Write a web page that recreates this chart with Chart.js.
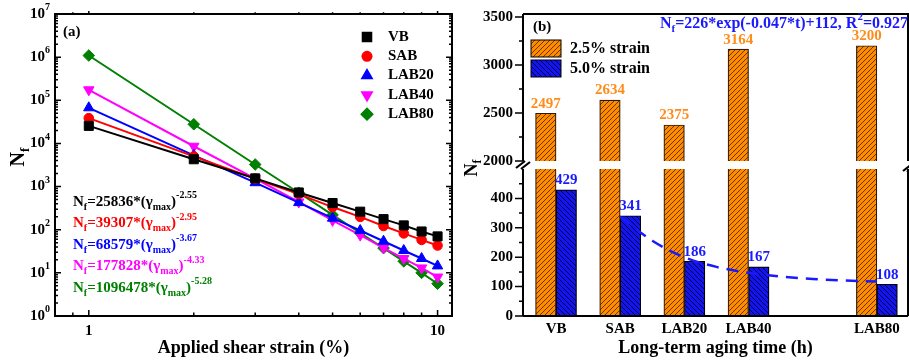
<!DOCTYPE html>
<html>
<head>
<meta charset="utf-8">
<title>Fatigue life</title>
<script src="https://cdn.jsdelivr.net/npm/chart.js@4.4.1/dist/chart.umd.min.js"></script>
<style>
  html, body { margin: 0; padding: 0; background: #fff; }
  #page { position: relative; width: 909px; height: 363px; overflow: hidden; }
  canvas { position: absolute; }
  #chartA { left: 0; top: 0; }
  #chartB1 { left: 460px; top: 0; }
  #chartB2 { left: 460px; top: 150px; }
</style>
</head>
<body>
<div id="page">
  <canvas id="chartA" width="460" height="363"></canvas>
  <canvas id="chartB1" width="449" height="175"></canvas>
  <canvas id="chartB2" width="449" height="213"></canvas>
</div>
<script>
// panel (a): cycles to failure vs applied shear strain
var strainPct = [1, 2, 3, 4, 5, 6, 7, 8, 9, 10];
var nfVB    = [25500, 4300, 1550, 730, 415, 262, 176, 126, 91, 70];
var nfSAB   = [38500, 5000, 1520, 670, 335, 198, 122, 82, 58, 43];
var nfLAB20 = [67000, 5300, 1230, 425, 185, 96, 54, 33, 21.5, 14.5];
var nfLAB40 = [175000, 8600, 1520, 440, 165, 75, 38, 21.5, 13, 8];
var nfLAB80 = [1090000, 27800, 3250, 720, 220, 84, 37.5, 18.5, 10, 5.6];
var seriesNames = ['VB', 'SAB', 'LAB20', 'LAB40', 'LAB80'];
var fitCoef = ['25836', '39307', '68579', '177828', '1096478'];
var fitExp = ['-2.55', '-2.95', '-3.67', '-4.33', '-5.28'];
var xTicksA = [0.9, 1, 2, 3, 4, 5, 6, 7, 8, 9, 10];
var xLabelsA = [1, 10];
var yDecadesA = [0, 1, 2, 3, 4, 5, 6, 7];

// panel (b): fatigue life vs long-term aging
var categories = ['VB', 'SAB', 'LAB20', 'LAB40', 'LAB80'];
var agingPos = [-20, 0, 20, 40, 80];   // where each group sits on the aging axis
var nf25 = [2497, 2634, 2375, 3164, 3200];
var nf50 = [429, 341, 186, 167, 108];
var fitT = [0, 10, 20, 30, 40, 50, 60, 70, 80];
var fitNf = [338, 256, 200, 167, 147, 134, 126, 121, 117];
var yTicksTop = [2000, 2500, 3000, 3500];
var yTicksBottom = [0, 100, 200, 300, 400];

var SERIF = '"Liberation Serif", "Times New Roman", serif';
function bold(size) { return 'bold ' + size + 'px ' + SERIF; }
Chart.defaults.font.family = SERIF;
Chart.defaults.color = '#000';

// text with sub/superscripts, parts = [[text, 'sub'|'sup'|undefined], ...]
function drawRich(ctx, parts, x, y, size, color, align) {
  var small = Math.round(size * 0.66);
  var w = 0;
  parts.forEach(function(p) {
    ctx.font = bold(p[1] ? small : size);
    w += ctx.measureText(p[0]).width;
  });
  var cx = align === 'right' ? x - w : (align === 'center' ? x - w / 2 : x);
  ctx.fillStyle = color;
  ctx.textAlign = 'left';
  ctx.textBaseline = 'middle';
  parts.forEach(function(p) {
    var dy = p[1] === 'sub' ? size * 0.33 : (p[1] === 'sup' ? -size * 0.42 : 0);
    ctx.font = bold(p[1] ? small : size);
    ctx.fillText(p[0], cx, y + dy);
    cx += ctx.measureText(p[0]).width;
  });
}

function line(ctx, x1, y1, x2, y2) {
  ctx.moveTo(x1, y1);
  ctx.lineTo(x2, y2);
}

// ---------- panel (a) ----------
var nfAll = [nfVB, nfSAB, nfLAB20, nfLAB40, nfLAB80];
var colorsA = ['#000000', '#ff0000', '#0000ff', '#ff00ff', '#008000'];
var markersA = [
  {style: 'rect', r: 6.4, rot: 0},
  {style: 'circle', r: 4.8, rot: 0},
  {style: 'triangle', r: 6, rot: 0},
  {style: 'triangle', r: 6, rot: 180},
  {style: 'rectRot', r: 5.8, rot: 0}
];

var frameA = {
  id: 'frameA',
  afterDraw: function(chart) {
    var ctx = chart.ctx, a = chart.chartArea;
    var xs = chart.scales.x, ys = chart.scales.y;
    ctx.save();
    ctx.strokeStyle = '#000';
    ctx.lineWidth = 2;
    ctx.strokeRect(a.left, a.top, a.right - a.left, a.bottom - a.top);

    // tick marks
    ctx.lineWidth = 1.5;
    ctx.beginPath();
    xTicksA.forEach(function(v) {
      var px = xs.getPixelForValue(v);
      var len = xLabelsA.indexOf(v) >= 0 ? 6 : 3.5;
      line(ctx, px, a.bottom, px, a.bottom - len);
      line(ctx, px, a.top, px, a.top - len * 0.5);
    });
    yDecadesA.forEach(function(d) {
      for (var m = 1; m <= 9; m++) {
        if (d === 7 && m > 1) break;
        var py = ys.getPixelForValue(m * Math.pow(10, d));
        var len = m === 1 ? 6 : 3;
        line(ctx, a.left, py, a.left + len, py);
        line(ctx, a.right, py, a.right - len, py);
      }
    });
    ctx.stroke();

    // y tick labels 10^n
    yDecadesA.forEach(function(d) {
      var py = ys.getPixelForValue(Math.pow(10, d));
      drawRich(ctx, [['10'], [String(d), 'sup']], a.left - 5, py, 15, '#000', 'right');
    });

    // y title
    ctx.save();
    ctx.translate(19, 157);
    ctx.rotate(-Math.PI / 2);
    drawRich(ctx, [['N'], ['f', 'sub']], 0, 0, 20, '#000', 'center');
    ctx.restore();

    drawRich(ctx, [['(a)']], 63, 32, 15, '#000', 'left');

    // legend
    seriesNames.forEach(function(name, i) {
      var ly = 37 + i * 19.3;
      var mk = markersA[i];
      ctx.fillStyle = colorsA[i];
      ctx.strokeStyle = colorsA[i];
      if (Chart.helpers && Chart.helpers.drawPoint) {
        Chart.helpers.drawPoint(ctx, {pointStyle: mk.style, radius: mk.r, rotation: mk.rot, borderWidth: 1}, 367, ly);
      }
      drawRich(ctx, [[name]], 388, ly, 15, '#000', 'left');
    });

    // power-law fits
    fitCoef.forEach(function(c, i) {
      var fy = 202 + i * 21.5;
      drawRich(ctx, [['N'], ['f', 'sub'], ['=' + c + '*(\u03b3'], ['max', 'sub'], [')'], [fitExp[i], 'sup']],
        73, fy, 15, colorsA[i], 'left');
    });
    ctx.restore();
  }
};

new Chart(document.getElementById('chartA'), {
  type: 'line',
  data: {
    datasets: nfAll.map(function(vals, i) {
      return {
        label: seriesNames[i],
        data: strainPct.map(function(x, k) { return {x: x, y: vals[k]}; }),
        borderColor: colorsA[i],
        backgroundColor: colorsA[i],
        borderWidth: 2,
        pointStyle: markersA[i].style,
        pointRadius: markersA[i].r,
        pointRotation: markersA[i].rot,
        pointBorderWidth: 1,
        tension: 0
      };
    })
  },
  options: {
    responsive: false,
    animation: false,
    devicePixelRatio: 1,
    layout: {padding: {left: 0, top: 14, right: 8, bottom: 0}},
    plugins: {legend: {display: false}, tooltip: {enabled: false}},
    scales: {
      x: {
        type: 'logarithmic', min: 0.8, max: 11,
        afterFit: function(s) { s.height = 47; },
        afterBuildTicks: function(s) { s.ticks = xTicksA.map(function(v) { return {value: v}; }); },
        grid: {display: false, drawTicks: false},
        border: {display: false},
        ticks: {
          autoSkip: false, maxRotation: 0, padding: 6,
          font: {size: 15, weight: 'bold'},
          callback: function(v) { return xLabelsA.indexOf(v) >= 0 ? String(v) : ''; }
        },
        title: {display: true, text: 'Applied shear strain (%)', font: {size: 18, weight: 'bold'}, padding: {top: 0, bottom: 4}}
      },
      y: {
        type: 'logarithmic', min: 1, max: 1e7,
        afterFit: function(s) { s.width = 55; },
        grid: {display: false, drawTicks: false},
        border: {display: false},
        ticks: {display: false}
      }
    }
  },
  plugins: [frameA]
});

// ---------- panel (b) ----------
function hatch(bg, ink, slash) {
  var c = document.createElement('canvas');
  c.width = 5; c.height = 5;
  var g = c.getContext('2d');
  g.fillStyle = bg;
  g.fillRect(0, 0, 5, 5);
  g.strokeStyle = ink;
  g.lineWidth = 0.9;
  g.beginPath();
  if (slash) {
    line(g, 0, 5, 5, 0); line(g, -1, 1, 1, -1); line(g, 4, 6, 6, 4);
  } else {
    line(g, 0, 0, 5, 5); line(g, 4, -1, 6, 1); line(g, -1, 4, 1, 6);
  }
  g.stroke();
  return g.createPattern(c, 'repeat');
}
var orangeFill = hatch('#ff8c00', '#5a2a00', true);
var blueFill = hatch('#1414f0', '#000033', false);
var labelColors = ['#ff8c1a', '#1a1aff'];

function barSets() {
  return [
    {
      label: '2.5% strain',
      data: agingPos.map(function(p, i) { return {x: p, y: nf25[i]}; }),
      backgroundColor: orangeFill, borderColor: '#2a1a0a', borderWidth: 1.2,
      barThickness: 20.5, order: 1
    },
    {
      label: '5.0% strain',
      data: agingPos.map(function(p, i) { return {x: p, y: nf50[i]}; }),
      backgroundColor: blueFill, borderColor: '#000000', borderWidth: 1.2,
      barThickness: 20.5, order: 1
    }
  ];
}

var barLabels = {
  id: 'barLabels',
  afterDatasetsDraw: function(chart) {
    var ctx = chart.ctx, ys = chart.scales.y;
    ctx.save();
    ctx.font = bold(15);
    ctx.textAlign = 'center';
    ctx.textBaseline = 'middle';
    [0, 1].forEach(function(di) {
      var ds = chart.data.datasets[di], meta = chart.getDatasetMeta(di);
      meta.data.forEach(function(el, i) {
        var v = ds.data[i].y;
        if (v < ys.min || v > ys.max) return;
        ctx.fillStyle = labelColors[di];
        ctx.fillText(String(v), el.x, el.y - 9.5);
      });
    });
    ctx.restore();
  }
};

function outTicks(ctx, scale, x, majors, minors) {
  ctx.beginPath();
  majors.forEach(function(v) { var py = scale.getPixelForValue(v); line(ctx, x, py, x - 8, py); });
  minors.forEach(function(v) { var py = scale.getPixelForValue(v); line(ctx, x, py, x - 4, py); });
  ctx.stroke();
}

var frameTop = {
  id: 'frameTop',
  afterDraw: function(chart) {
    var ctx = chart.ctx, a = chart.chartArea, ys = chart.scales.y;
    ctx.save();
    ctx.strokeStyle = '#000';
    ctx.lineWidth = 2;
    ctx.beginPath();
    line(ctx, a.left, a.bottom, a.left, a.top);
    line(ctx, a.left, a.top, chart.width, a.top);
    line(ctx, a.right, a.top, a.right, a.bottom);
    ctx.stroke();
    ctx.lineWidth = 1.5;
    outTicks(ctx, ys, a.left, yTicksTop, [2250, 2750, 3250]);

    // y tick labels (drawn here so the bottom label may sit on the axis break)
    yTicksTop.forEach(function(v) {
      drawRich(ctx, [[String(v)]], a.left - 10, ys.getPixelForValue(v), 15, '#000', 'right');
    });

    drawRich(ctx, [['(b)']], 73, 27, 15, '#000', 'left');

    // legend
    [orangeFill, blueFill].forEach(function(fill, i) {
      var by = 40 + i * 20;
      ctx.fillStyle = fill;
      ctx.fillRect(71, by, 30, 17);
      ctx.lineWidth = 1;
      ctx.strokeStyle = '#000';
      ctx.strokeRect(71, by, 30, 17);
      drawRich(ctx, [[chart.data.datasets[i].label]], 110, by + 9, 16, '#000', 'left');
    });

    drawRich(ctx, [['N'], ['f', 'sub'], ['=226*exp(-0.047*t)+112, R'], ['2', 'sup'], ['=0.927']],
      chart.width - 1, 24, 16, '#1a1aff', 'right');
    ctx.restore();
  }
};

var frameBottom = {
  id: 'frameBottom',
  afterDraw: function(chart) {
    var ctx = chart.ctx, a = chart.chartArea;
    ctx.save();
    ctx.strokeStyle = '#000';
    ctx.lineWidth = 2;
    ctx.beginPath();
    line(ctx, a.left, a.top, a.left, a.bottom);
    line(ctx, a.left, a.bottom, a.right, a.bottom);
    line(ctx, a.right, a.top, a.right, a.bottom);
    ctx.stroke();
    ctx.lineWidth = 1.5;
    outTicks(ctx, chart.scales.y, a.left, yTicksBottom, [50, 150, 250, 350, 450]);

    // axis break marks
    ctx.lineWidth = 2.2;
    ctx.beginPath();
    line(ctx, a.left - 7, a.top - 1, a.left + 2, a.top - 8);
    line(ctx, a.left - 2, a.top, a.left + 7, a.top - 7);
    line(ctx, a.right - 5, a.top + 2, a.right + 4, a.top - 5);
    line(ctx, a.right - 1, a.top + 3, a.right + 8, a.top - 4);
    ctx.stroke();

    // y title
    ctx.save();
    ctx.translate(12, 18);
    ctx.rotate(-Math.PI / 2);
    drawRich(ctx, [['N'], ['f', 'sub']], 0, 0, 18, '#000', 'center');
    ctx.restore();
    ctx.restore();
  }
};

var xAxisB = {
  type: 'linear', min: -30.3, max: 89.7, offset: false
};

new Chart(document.getElementById('chartB1'), {
  type: 'bar',
  data: {datasets: barSets()},
  options: {
    responsive: false,
    animation: false,
    devicePixelRatio: 1,
    layout: {padding: {left: 0, top: 14, right: 1, bottom: 14}},
    plugins: {legend: {display: false}, tooltip: {enabled: false}},
    scales: {
      x: Object.assign({display: false}, xAxisB),
      y: {
        min: 2000, max: 3530,
        afterFit: function(s) { s.width = 63; },
        grid: {display: false, drawTicks: false},
        border: {display: false},
        ticks: {display: false}
      }
    }
  },
  plugins: [barLabels, frameTop]
});

var lowerSets = barSets();
lowerSets.push({
  type: 'line',
  label: 'fit',
  data: fitT.map(function(t, i) { return {x: t, y: fitNf[i]}; }),
  borderColor: '#1a1aff',
  borderWidth: 2.5,
  borderDash: [12, 8],
  pointRadius: 0,
  cubicInterpolationMode: 'monotone',
  order: 0
});

new Chart(document.getElementById('chartB2'), {
  type: 'bar',
  data: {datasets: lowerSets},
  options: {
    responsive: false,
    animation: false,
    devicePixelRatio: 1,
    layout: {padding: {left: 0, top: 17, right: 1, bottom: 0}},
    plugins: {legend: {display: false}, tooltip: {enabled: false}},
    scales: {
      x: Object.assign({
        afterFit: function(s) { s.height = 47; },
        afterBuildTicks: function(s) { s.ticks = agingPos.map(function(v) { return {value: v}; }); },
        grid: {display: false, drawTicks: false},
        border: {display: false},
        ticks: {
          autoSkip: false, maxRotation: 0, padding: 4,
          font: {size: 15, weight: 'bold'},
          callback: function(v) { return categories[agingPos.indexOf(v)]; }
        },
        title: {display: true, text: 'Long-term aging time (h)', font: {size: 18, weight: 'bold'}, padding: {top: 0, bottom: 4}}
      }, xAxisB),
      y: {
        min: 0, max: 500,
        afterFit: function(s) { s.width = 63; },
        afterBuildTicks: function(s) { s.ticks = yTicksBottom.map(function(v) { return {value: v}; }); },
        grid: {display: false, drawTicks: false},
        border: {display: false},
        ticks: {padding: 10, font: {size: 15, weight: 'bold'}, callback: function(v) { return String(v); }}
      }
    }
  },
  plugins: [barLabels, frameBottom]
});
</script>
</body>
</html>
